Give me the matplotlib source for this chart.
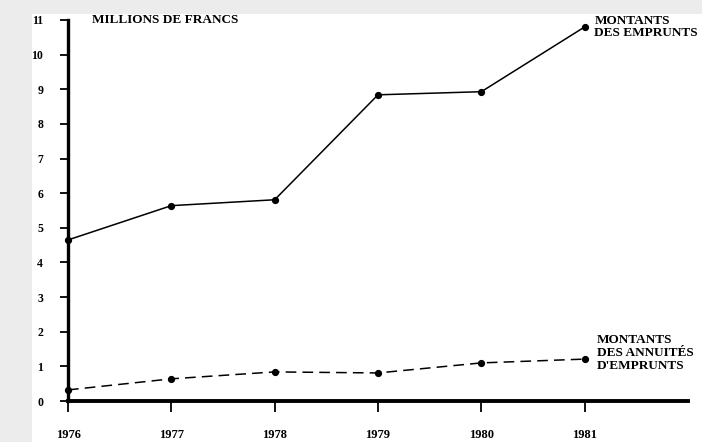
import matplotlib
matplotlib.use("Agg")
import matplotlib.pyplot as plt
from matplotlib.patches import Rectangle

years = [1976, 1977, 1978, 1979, 1980, 1981]
emprunts = [4.65, 5.64, 5.81, 8.84, 8.93, 10.8]
annuites = [0.32, 0.64, 0.84, 0.81, 1.10, 1.21]
yticks = list(range(0, 12))
xlabels = ["1976", "1977", "1978", "1979", "1980", "1981"]

plt.rcParams['font.family'] = ['Liberation Serif', 'DejaVu Serif']

W, H = 702, 442
fig = plt.figure(figsize=(W/100, H/100), dpi=100, facecolor='#ececec')
fig.patches.append(Rectangle((32/W, 0), 1 - 32/W, (H-14)/H, transform=fig.transFigure,
                             facecolor='white', edgecolor='none', zorder=-10))

ax = fig.add_axes([68/W, 41/H, (688-68)/W, (401-20)/H])
ax.set_facecolor('none')
ax.plot(years, emprunts, color='black', lw=1.1, marker='o', ms=4.2, clip_on=False)
ax.plot(years, annuites, color='black', lw=1.1, ls=(0, (7, 4)), marker='o', ms=4.2, clip_on=False)

ax.set_xlim(1976, 1982)
ax.set_ylim(0, 11)
ax.set_yticks(yticks)
ax.set_yticklabels([str(v) for v in yticks], fontsize=8.5, fontweight='bold')
ax.set_xticks(years)
ax.set_xticklabels(xlabels, fontsize=9, fontweight='bold')
ax.tick_params(axis='y', direction='out', length=6, width=1.3, pad=12)
ax.tick_params(axis='x', direction='out', length=8, width=1.3, pad=12)
for s in ['top', 'right']:
    ax.spines[s].set_visible(False)
ax.spines['left'].set_linewidth(2.4)
ax.spines['bottom'].set_linewidth(2.8)

fig.text(92/W, 1 - 20/H, "MILLIONS DE FRANCS", fontsize=9.5, fontweight='bold',
         ha='left', va='center')
ax.annotate("MONTANTS\nDES EMPRUNTS", xy=(years[-1], emprunts[-1]), xytext=(7, 0),
            textcoords='offset points', fontsize=9.5, fontweight='bold', ha='left', va='center',
            linespacing=1.05)
ax.annotate("MONTANTS\nDES ANNUITÉS\nD'EMPRUNTS", xy=(years[-1], annuites[-1]), xytext=(9, 4.3),
            textcoords='offset points', fontsize=9.5, fontweight='bold', ha='left', va='center',
            linespacing=1.1)

fig.savefig("out.png", dpi=100, facecolor=fig.get_facecolor())
